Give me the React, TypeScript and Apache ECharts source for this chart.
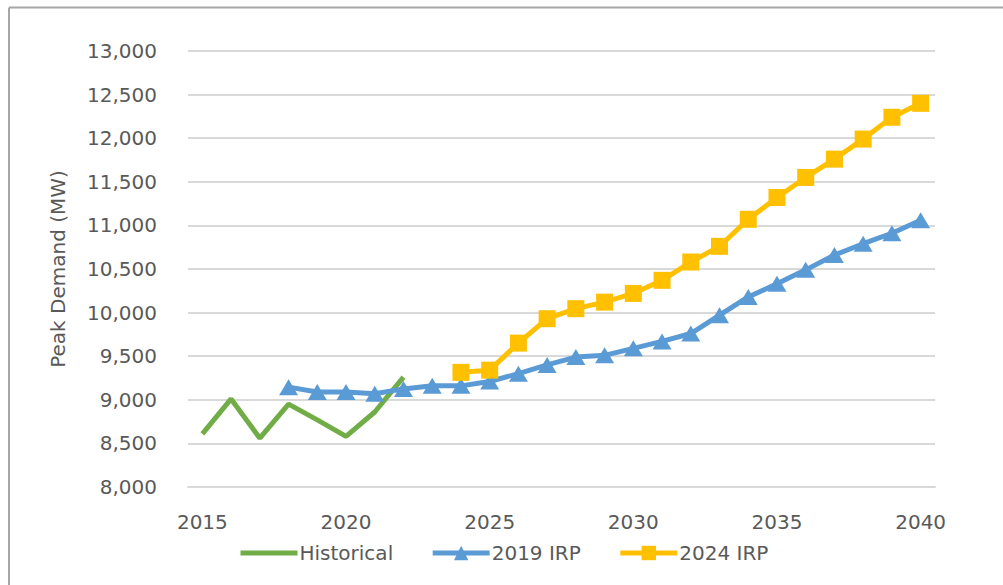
import React, { useEffect, useRef } from "react";
import * as echarts from "echarts";

// Years shown on the category axis
const years: string[] = [
  "2015", "2016", "2017", "2018", "2019", "2020", "2021", "2022", "2023",
  "2024", "2025", "2026", "2027", "2028", "2029", "2030", "2031", "2032",
  "2033", "2034", "2035", "2036", "2037", "2038", "2039", "2040",
];

// Peak demand (MW) per year; null where a series has no value
const historical: (number | null)[] = [
  8610, 9010, 8560, 8950, 8770, 8580, 8860, 9260, null,
  null, null, null, null, null, null, null, null, null,
  null, null, null, null, null, null, null, null,
];

const irp2019: (number | null)[] = [
  null, null, null, 9145, 9090, 9090, 9070, 9125, 9160,
  9160, 9210, 9300, 9400, 9490, 9510, 9590, 9670, 9760,
  9970, 10180, 10330, 10490, 10660, 10790, 10910, 11060,
];

const irp2024: (number | null)[] = [
  null, null, null, null, null, null, null, null, null,
  9315, 9340, 9650, 9930, 10045, 10120, 10220, 10370, 10580,
  10760, 11070, 11320, 11550, 11760, 11990, 12240, 12400,
];

const seriesNames = ["Historical", "2019 IRP", "2024 IRP"];

const TEXT = "#595959";
const FONT = "DejaVu Sans";

export default function App() {
  const ref = useRef<HTMLDivElement>(null);

  useEffect(() => {
    if (!ref.current) return;
    const chart = echarts.init(ref.current, undefined, { renderer: "svg" });
    chart.setOption({
      animation: false,
      backgroundColor: "#ffffff",
      textStyle: { fontFamily: FONT, color: TEXT },
      grid: { left: 188, right: 68, top: 51, bottom: 98 },
      legend: {
        left: 238,
        top: 543,
        padding: 0,
        itemWidth: 57,
        itemHeight: 18,
        itemGap: 37,
        lineStyle: { width: 5 },
        textStyle: { fontFamily: FONT, fontSize: 20, color: TEXT, padding: [0, 0, 0, -3] },
        data: [
          { name: seriesNames[0], itemStyle: { opacity: 0 }, lineStyle: { width: 5 } },
          { name: seriesNames[1], lineStyle: { width: 5 } },
          { name: seriesNames[2], lineStyle: { width: 5 } },
        ],
      },
      xAxis: {
        type: "category",
        data: years,
        boundaryGap: true,
        axisLine: { show: true, lineStyle: { color: "#D9D9D9", width: 2 } },
        axisTick: { show: false },
        axisLabel: {
          interval: 4,
          margin: 25,
          fontFamily: FONT,
          fontSize: 20,
          color: TEXT,
        },
      },
      yAxis: {
        type: "value",
        min: 8000,
        max: 13000,
        interval: 500,
        name: "Peak Demand (MW)",
        nameLocation: "middle",
        nameGap: 120,
        nameTextStyle: { fontFamily: FONT, fontSize: 20, color: TEXT },
        axisLine: { show: false },
        axisTick: { show: false },
        splitLine: { lineStyle: { color: "#D9D9D9", width: 2 } },
        axisLabel: {
          margin: 31,
          fontFamily: FONT,
          fontSize: 20,
          color: TEXT,
          formatter: (v: number) => v.toLocaleString("en-US"),
        },
      },
      series: [
        {
          name: seriesNames[0],
          type: "line",
          data: historical,
          showSymbol: false,
          symbol: "none",
          color: "#70AD47",
          lineStyle: { width: 5, color: "#70AD47" },
        },
        {
          name: seriesNames[1],
          type: "line",
          data: irp2019,
          symbol: "triangle",
          symbolSize: [19, 16],
          color: "#5B9BD5",
          itemStyle: { color: "#5B9BD5" },
          lineStyle: { width: 5, color: "#5B9BD5" },
        },
        {
          name: seriesNames[2],
          type: "line",
          data: irp2024,
          symbol: "rect",
          symbolSize: 17,
          color: "#FFC000",
          itemStyle: { color: "#FFC000" },
          lineStyle: { width: 5, color: "#FFC000" },
        },
      ],
      graphic: [
        {
          type: "line",
          shape: { x1: 9, y1: 7.5, x2: 1003, y2: 7.5 },
          style: { stroke: "#A6A6A6", lineWidth: 2 },
        },
        {
          type: "line",
          shape: { x1: 9, y1: 7.5, x2: 9, y2: 585 },
          style: { stroke: "#A6A6A6", lineWidth: 2 },
        },
      ],
    });
    return () => chart.dispose();
  }, []);

  return (
    <div
      ref={ref}
      style={{ position: "fixed", left: 0, top: 0, width: 1003, height: 585 }}
    />
  );
}
